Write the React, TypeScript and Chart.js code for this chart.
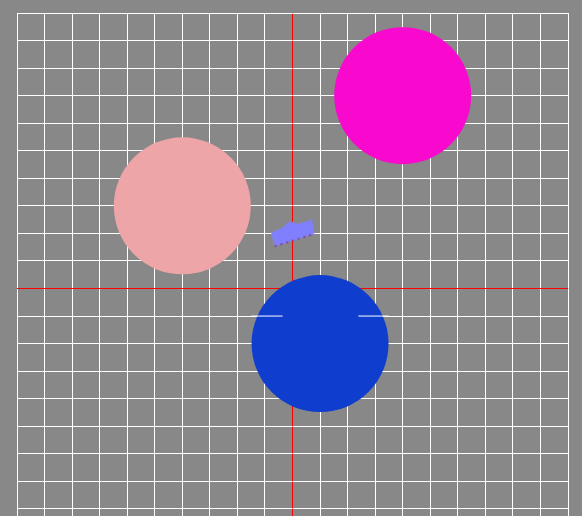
import React, { useEffect, useRef } from 'react';
import { Chart, registerables } from 'chart.js';

Chart.register(...registerables);

// ---- data ----
const axisMin = -10;
const axisMax = 10;
const axisStep = 1;

const bubbleX = [-4, 4, 1];
const bubbleY = [3, 7, -2];
const bubbleR = [68.5, 68.5, 68.5];
const bubbleColors = ['#eea5a7', '#f809cd', '#0f3ecf'];

const smallX = [0];
const smallY = [2];
const smallColor = '#8080ff';
const smallEdgeColor = '#7a1a9a';

const segY = -1;
const segLeftX = [-1.5, -0.36];
const segRightX = [2.39, 3.5];

function makeBlob(): HTMLCanvasElement {
  const c = document.createElement('canvas');
  c.width = 48;
  c.height = 32;
  const g = c.getContext('2d')!;
  const cx = 24, cy = 16;
  const pts = [
    [-21.5, -0.6], [-9.2, -6.2], [-5.8, -10.2], [-0.8, -11.9], [4.2, -9.6],
    [9.2, -10.6], [19.8, -13.9], [21.8, 0.4], [-17.5, 12.8],
  ];
  g.beginPath();
  pts.forEach(([x, y], i) => (i === 0 ? g.moveTo(cx + x, cy + y) : g.lineTo(cx + x, cy + y)));
  g.closePath();
  g.fillStyle = smallColor;
  g.fill();
  g.beginPath();
  g.moveTo(cx - 17.5, cy + 12.8);
  g.lineTo(cx + 21.8, cy + 0.4);
  g.setLineDash([1.5, 4.5]);
  g.lineWidth = 1.5;
  g.strokeStyle = smallEdgeColor;
  g.stroke();
  return c;
}

export default function App() {
  const ref = useRef<HTMLCanvasElement>(null);

  useEffect(() => {
    document.body.style.background = '#888888';
    const blob = makeBlob();
    const gridColor = (ctx: any) =>
      ctx.tick && Math.abs(ctx.tick.value) < 1e-9 ? 'rgb(255,0,0)' : 'rgb(255,255,255)';
    const scaleOpts = () => ({
      type: 'linear' as const,
      min: axisMin,
      max: axisMax,
      grid: { color: gridColor, lineWidth: 1, drawTicks: false },
      border: { display: false },
      ticks: { display: false, stepSize: axisStep },
      title: { display: false },
    });
    const chart = new Chart(ref.current!, {
      type: 'bubble',
      data: {
        datasets: [
          {
            type: 'line',
            data: segLeftX.map((x) => ({ x, y: segY })),
            borderColor: '#ffffff',
            borderWidth: 1,
            pointRadius: 0,
            fill: false,
          } as any,
          {
            type: 'line',
            data: segRightX.map((x) => ({ x, y: segY })),
            borderColor: '#ffffff',
            borderWidth: 1,
            pointRadius: 0,
            fill: false,
          } as any,
          {
            type: 'scatter',
            data: smallX.map((x, i) => ({ x, y: smallY[i] })),
            pointStyle: blob,
            pointRadius: 16,
            showLine: false,
          } as any,
          {
            type: 'bubble',
            data: bubbleX.map((x, i) => ({ x, y: bubbleY[i], r: bubbleR[i] })),
            backgroundColor: bubbleColors,
            borderWidth: 0,
            hoverBorderWidth: 0,
          },
        ],
      },
      options: {
        responsive: false,
        animation: false,
        layout: { autoPadding: false, padding: { left: 17, top: 13, right: 14, bottom: 10 } },
        plugins: { legend: { display: false }, tooltip: { enabled: false } },
        events: [],
        scales: { x: scaleOpts(), y: scaleOpts() } as any,
      },
    });
    return () => chart.destroy();
  }, []);

  return (
    <div
      style={{
        position: 'fixed',
        left: 0,
        top: 0,
        width: 582,
        height: 516,
        overflow: 'hidden',
        background: '#888888',
      }}
    >
      <canvas ref={ref} width={582} height={574} style={{ display: 'block' }} />
    </div>
  );
}
